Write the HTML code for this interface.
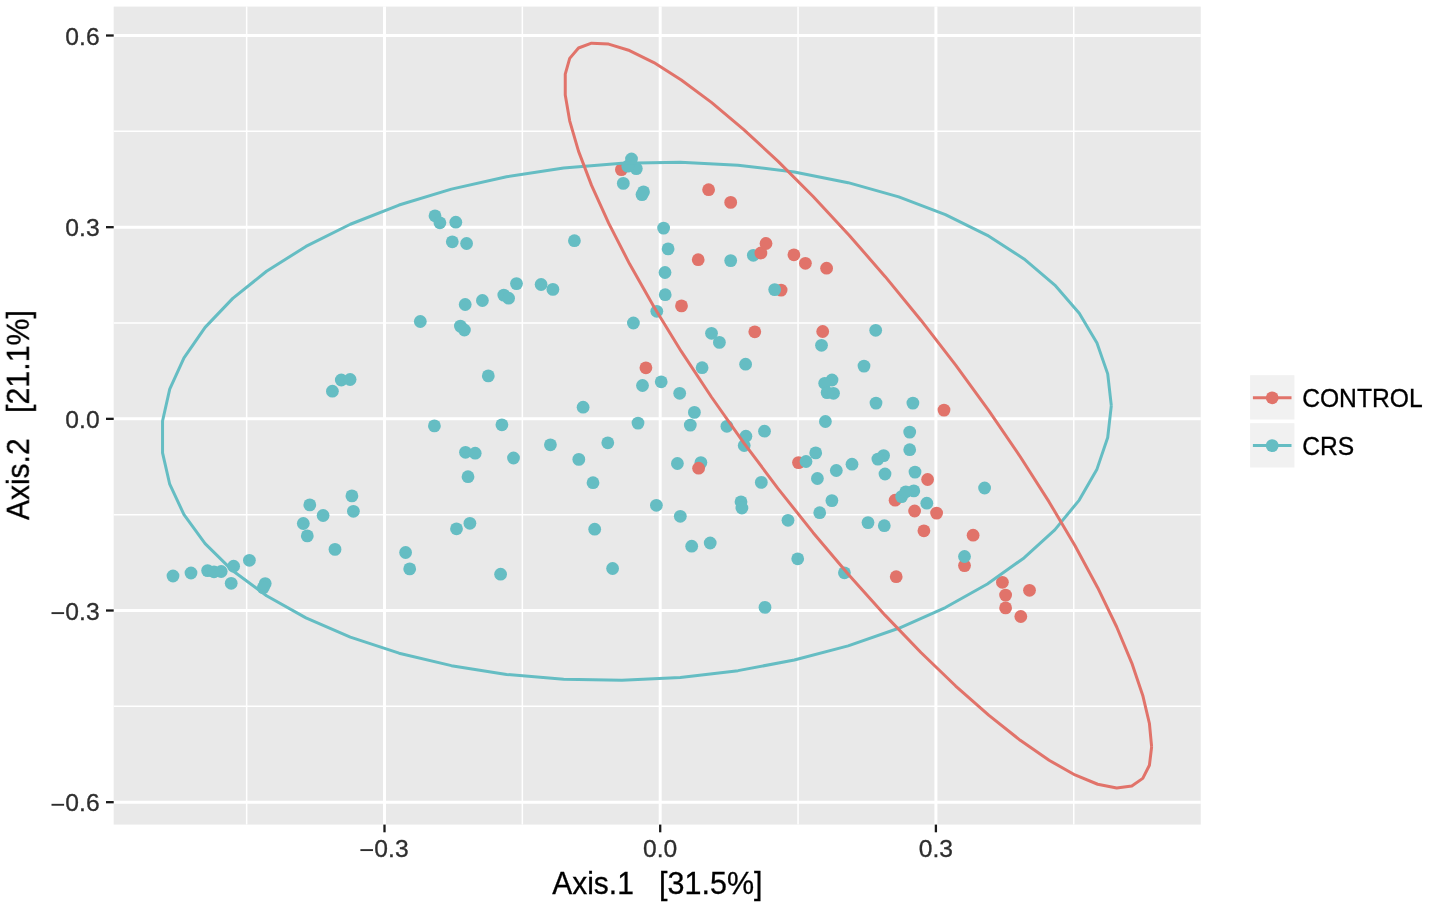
<!DOCTYPE html>
<html><head><meta charset="utf-8"><style>
html,body{margin:0;padding:0;background:#fff;width:1429px;height:906px;overflow:hidden}
svg{display:block}
text{font-family:"Liberation Sans",sans-serif;font-kerning:none;will-change:transform}
</style></head><body>
<svg width="1429" height="906" viewBox="0 0 1429 906">
<rect x="0" y="0" width="1429" height="906" fill="#fff"/>
<rect x="113.7" y="6.6" width="1087.05" height="818.00" fill="#E9E9E9"/>
<g stroke="#fff" stroke-width="1.5"><line x1="246.65" y1="6.6" x2="246.65" y2="824.6"/><line x1="522.35" y1="6.6" x2="522.35" y2="824.6"/><line x1="798.05" y1="6.6" x2="798.05" y2="824.6"/><line x1="1073.75" y1="6.6" x2="1073.75" y2="824.6"/><line x1="113.7" y1="706.36" x2="1200.75" y2="706.36"/><line x1="113.7" y1="514.69" x2="1200.75" y2="514.69"/><line x1="113.7" y1="323.02" x2="1200.75" y2="323.02"/><line x1="113.7" y1="131.35" x2="1200.75" y2="131.35"/></g>
<g stroke="#fff" stroke-width="3.0"><line x1="384.50" y1="6.6" x2="384.50" y2="824.6"/><line x1="660.20" y1="6.6" x2="660.20" y2="824.6"/><line x1="935.90" y1="6.6" x2="935.90" y2="824.6"/><line x1="113.7" y1="802.19" x2="1200.75" y2="802.19"/><line x1="113.7" y1="610.52" x2="1200.75" y2="610.52"/><line x1="113.7" y1="418.85" x2="1200.75" y2="418.85"/><line x1="113.7" y1="227.18" x2="1200.75" y2="227.18"/><line x1="113.7" y1="35.51" x2="1200.75" y2="35.51"/></g>
<g fill="#65BDC3"><circle cx="173" cy="576" r="6.4"/><circle cx="191" cy="573" r="6.4"/><circle cx="207.6" cy="570.6" r="6.4"/><circle cx="214" cy="571.8" r="6.4"/><circle cx="221.2" cy="571.5" r="6.4"/><circle cx="233.6" cy="566.2" r="6.4"/><circle cx="249.4" cy="560.3" r="6.4"/><circle cx="231.2" cy="583.3" r="6.4"/><circle cx="265.2" cy="583.6" r="6.4"/><circle cx="263.2" cy="587.7" r="6.4"/><circle cx="309.8" cy="504.9" r="6.4"/><circle cx="323.1" cy="515.5" r="6.4"/><circle cx="303.3" cy="523.5" r="6.4"/><circle cx="307.3" cy="535.9" r="6.4"/><circle cx="335" cy="549.4" r="6.4"/><circle cx="351.9" cy="495.9" r="6.4"/><circle cx="353.4" cy="511.3" r="6.4"/><circle cx="332.4" cy="391.2" r="6.4"/><circle cx="341.3" cy="380" r="6.4"/><circle cx="350.1" cy="379.5" r="6.4"/><circle cx="435" cy="215.8" r="6.4"/><circle cx="439.9" cy="222.8" r="6.4"/><circle cx="455.8" cy="222.2" r="6.4"/><circle cx="452.3" cy="241.8" r="6.4"/><circle cx="466.6" cy="243.5" r="6.4"/><circle cx="574.4" cy="240.7" r="6.4"/><circle cx="516.5" cy="283.6" r="6.4"/><circle cx="541.1" cy="284.5" r="6.4"/><circle cx="552.9" cy="289.4" r="6.4"/><circle cx="503.8" cy="295.1" r="6.4"/><circle cx="508.6" cy="298.2" r="6.4"/><circle cx="482.4" cy="300.5" r="6.4"/><circle cx="465.2" cy="304.5" r="6.4"/><circle cx="420.3" cy="321.5" r="6.4"/><circle cx="460.4" cy="326.1" r="6.4"/><circle cx="464.4" cy="330" r="6.4"/><circle cx="488.3" cy="375.9" r="6.4"/><circle cx="583.1" cy="407.2" r="6.4"/><circle cx="434.4" cy="425.9" r="6.4"/><circle cx="501.9" cy="424.8" r="6.4"/><circle cx="550.4" cy="444.8" r="6.4"/><circle cx="607.8" cy="442.8" r="6.4"/><circle cx="465.5" cy="452.3" r="6.4"/><circle cx="475.2" cy="453.2" r="6.4"/><circle cx="513.5" cy="458" r="6.4"/><circle cx="578.8" cy="459.4" r="6.4"/><circle cx="468" cy="476.7" r="6.4"/><circle cx="593" cy="482.7" r="6.4"/><circle cx="456.5" cy="528.8" r="6.4"/><circle cx="469.9" cy="523.3" r="6.4"/><circle cx="405.6" cy="552.5" r="6.4"/><circle cx="409.7" cy="568.9" r="6.4"/><circle cx="500.6" cy="574.2" r="6.4"/><circle cx="594.7" cy="529.2" r="6.4"/><circle cx="612.6" cy="568.5" r="6.4"/><circle cx="631.5" cy="159" r="6.4"/><circle cx="636.3" cy="168.6" r="6.4"/><circle cx="623.3" cy="183.4" r="6.4"/><circle cx="643.5" cy="191.9" r="6.4"/><circle cx="642.0" cy="194.6" r="6.4"/><circle cx="663.6" cy="228.1" r="6.4"/><circle cx="668.1" cy="248.9" r="6.4"/><circle cx="665" cy="272.5" r="6.4"/><circle cx="665.2" cy="294.7" r="6.4"/><circle cx="656.8" cy="311.3" r="6.4"/><circle cx="633.4" cy="323" r="6.4"/><circle cx="642.5" cy="385.5" r="6.4"/><circle cx="638" cy="423.1" r="6.4"/><circle cx="753.3" cy="255.3" r="6.4"/><circle cx="730.7" cy="260.6" r="6.4"/><circle cx="711.5" cy="333.3" r="6.4"/><circle cx="719.4" cy="342.4" r="6.4"/><circle cx="702.1" cy="367.7" r="6.4"/><circle cx="745.6" cy="364.2" r="6.4"/><circle cx="661.2" cy="381.8" r="6.4"/><circle cx="679.7" cy="393.3" r="6.4"/><circle cx="694.4" cy="412.4" r="6.4"/><circle cx="690.3" cy="425.1" r="6.4"/><circle cx="726.9" cy="426.3" r="6.4"/><circle cx="764.5" cy="431.2" r="6.4"/><circle cx="745.9" cy="436.2" r="6.4"/><circle cx="744.2" cy="445.5" r="6.4"/><circle cx="677.4" cy="463.5" r="6.4"/><circle cx="700.9" cy="462.6" r="6.4"/><circle cx="761.3" cy="482.4" r="6.4"/><circle cx="656.4" cy="505.3" r="6.4"/><circle cx="741" cy="501.8" r="6.4"/><circle cx="741.9" cy="508" r="6.4"/><circle cx="680.3" cy="516.3" r="6.4"/><circle cx="788" cy="520.3" r="6.4"/><circle cx="691.7" cy="546.2" r="6.4"/><circle cx="710.2" cy="543" r="6.4"/><circle cx="797.7" cy="558.8" r="6.4"/><circle cx="844.4" cy="572.8" r="6.4"/><circle cx="765" cy="607.4" r="6.4"/><circle cx="875.7" cy="330.3" r="6.4"/><circle cx="864" cy="366.1" r="6.4"/><circle cx="821.5" cy="345.3" r="6.4"/><circle cx="832" cy="380" r="6.4"/><circle cx="824.7" cy="383.3" r="6.4"/><circle cx="827.1" cy="392.6" r="6.4"/><circle cx="833.5" cy="393.3" r="6.4"/><circle cx="876" cy="403.1" r="6.4"/><circle cx="912.9" cy="403.1" r="6.4"/><circle cx="825.4" cy="421.5" r="6.4"/><circle cx="909.7" cy="432.1" r="6.4"/><circle cx="909.7" cy="449.7" r="6.4"/><circle cx="883.6" cy="455.6" r="6.4"/><circle cx="877.9" cy="459.1" r="6.4"/><circle cx="852" cy="464.2" r="6.4"/><circle cx="885" cy="474" r="6.4"/><circle cx="915" cy="472.1" r="6.4"/><circle cx="913.8" cy="490.9" r="6.4"/><circle cx="926.8" cy="503.2" r="6.4"/><circle cx="868" cy="522.6" r="6.4"/><circle cx="884.3" cy="525.7" r="6.4"/><circle cx="984.6" cy="488" r="6.4"/><circle cx="815.7" cy="452.9" r="6.4"/><circle cx="817.4" cy="478.5" r="6.4"/><circle cx="836.3" cy="470.5" r="6.4"/><circle cx="831.9" cy="500.6" r="6.4"/><circle cx="819.7" cy="512.7" r="6.4"/></g>
<g fill="#E1736A"><circle cx="621.4" cy="169.6" r="6.4"/><circle cx="708.6" cy="189.7" r="6.4"/><circle cx="730.7" cy="202.4" r="6.4"/><circle cx="698.2" cy="259.7" r="6.4"/><circle cx="760.9" cy="253" r="6.4"/><circle cx="766" cy="243.5" r="6.4"/><circle cx="793.9" cy="254.8" r="6.4"/><circle cx="805.4" cy="263.3" r="6.4"/><circle cx="826.6" cy="268.2" r="6.4"/><circle cx="781.1" cy="290.1" r="6.4"/><circle cx="681.5" cy="305.9" r="6.4"/><circle cx="754.8" cy="331.8" r="6.4"/><circle cx="822.7" cy="331.5" r="6.4"/><circle cx="645.9" cy="367.8" r="6.4"/><circle cx="944" cy="410.1" r="6.4"/><circle cx="698.6" cy="468.2" r="6.4"/><circle cx="798.5" cy="462.6" r="6.4"/><circle cx="927.6" cy="479.5" r="6.4"/><circle cx="895.1" cy="500.2" r="6.4"/><circle cx="914.6" cy="511" r="6.4"/><circle cx="936.6" cy="513.1" r="6.4"/><circle cx="923.9" cy="530.8" r="6.4"/><circle cx="973.1" cy="535.2" r="6.4"/><circle cx="964.5" cy="565.6" r="6.4"/><circle cx="896.2" cy="576.7" r="6.4"/><circle cx="1002.4" cy="582.3" r="6.4"/><circle cx="1005.6" cy="595.1" r="6.4"/><circle cx="1005.6" cy="607.9" r="6.4"/><circle cx="1029.5" cy="590.3" r="6.4"/><circle cx="1020.8" cy="616.5" r="6.4"/></g>
<g fill="#65BDC3"><circle cx="627.8" cy="166.2" r="6.4"/><circle cx="774.7" cy="289.6" r="6.4"/><circle cx="901.6" cy="496.6" r="6.4"/><circle cx="905.8" cy="491.8" r="6.4"/><circle cx="964.5" cy="556.5" r="6.4"/><circle cx="806" cy="461.5" r="6.4"/></g>
<polyline fill="none" stroke="#65BDC3" stroke-width="3.0" stroke-linejoin="round" points="1111.31,405.56 1107.71,373.88 1096.97,342.93 1079.25,313.16 1054.81,285.02 1024.03,258.96 987.38,235.35 945.41,214.56 898.76,196.91 848.13,182.66 794.29,172.02 738.06,165.16 680.29,162.19 621.86,163.14 563.65,168.00 506.54,176.70 451.40,189.11 399.06,205.04 350.33,224.25 305.93,246.44 266.55,271.29 232.77,298.40 205.11,327.38 183.99,357.79 169.73,389.15 162.55,421.00 162.55,452.86 169.73,484.23 183.99,514.66 205.11,543.66 232.77,570.81 266.55,595.70 305.93,617.93 350.33,637.19 399.07,653.18 451.40,665.65 506.54,674.41 563.65,679.34 621.86,680.35 680.29,677.44 738.06,670.64 794.29,660.06 848.13,645.87 898.76,628.27 945.41,607.53 987.38,583.96 1024.03,557.93 1054.81,529.83 1079.25,500.08 1096.97,469.14 1107.71,437.47 1111.31,405.56"/>
<polyline fill="none" stroke="#E1736A" stroke-width="3.0" stroke-linejoin="round" points="1151.63,746.90 1149.41,723.48 1142.77,695.40 1131.81,663.07 1116.71,626.99 1097.69,587.70 1075.04,545.79 1049.10,501.92 1020.26,456.73 988.97,410.91 955.70,365.17 920.94,320.18 885.24,276.64 849.12,235.20 813.14,196.50 777.85,161.11 743.77,129.58 711.42,102.38 681.30,79.93 653.87,62.57 629.52,50.55 608.65,44.06 591.55,43.21 578.50,47.99 569.69,58.35 565.25,74.12 565.25,95.06 569.69,120.86 578.50,151.12 591.55,185.40 608.65,223.15 629.52,263.83 653.87,306.80 681.30,351.42 711.43,397.01 743.77,442.87 777.85,488.33 813.14,532.67 849.12,575.24 885.24,615.39 920.94,652.50 955.70,686.03 988.97,715.45 1020.26,740.32 1049.10,760.27 1075.04,774.98 1097.69,784.25 1116.71,787.93 1131.81,785.96 1142.77,778.38 1149.41,765.29 1151.63,746.90"/>
<g stroke="#1A1A1A" stroke-width="2.3"><line x1="106" y1="802.19" x2="113.7" y2="802.19"/><line x1="106" y1="610.52" x2="113.7" y2="610.52"/><line x1="106" y1="418.85" x2="113.7" y2="418.85"/><line x1="106" y1="227.18" x2="113.7" y2="227.18"/><line x1="106" y1="35.51" x2="113.7" y2="35.51"/><line x1="384.50" y1="824.6" x2="384.50" y2="832.3"/><line x1="660.20" y1="824.6" x2="660.20" y2="832.3"/><line x1="935.90" y1="824.6" x2="935.90" y2="832.3"/></g>
<g fill="#2E2E2E" font-size="24.65" stroke="#2E2E2E" stroke-width="0.3"><text x="99.6" y="811.19" text-anchor="end">0.6</text><rect x="51.5" y="803.84" width="12.6" height="1.9" stroke="none"/><text x="99.6" y="619.52" text-anchor="end">0.3</text><rect x="51.5" y="612.17" width="12.6" height="1.9" stroke="none"/><text x="99.6" y="427.85" text-anchor="end">0.0</text><text x="99.6" y="236.18" text-anchor="end">0.3</text><text x="99.6" y="44.51" text-anchor="end">0.6</text><text x="408.6" y="856.5" text-anchor="end">0.3</text><rect x="360.4" y="849.15" width="12.6" height="1.9" stroke="none"/><text x="660.20" y="856.5" text-anchor="middle">0.0</text><text x="935.90" y="856.5" text-anchor="middle">0.3</text></g>
<text transform="translate(0,893.80) scale(1,1.03)" x="552.24" y="0" font-size="30.0" textLength="81.62" lengthAdjust="spacingAndGlyphs" fill="#000" stroke="#000" stroke-width="0.3">Axis.1</text>
<text transform="translate(0,893.80) scale(1,1.03)" x="659.13" y="0" font-size="30.0" textLength="103.45" lengthAdjust="spacingAndGlyphs" fill="#000" stroke="#000" stroke-width="0.3">[31.5%]</text>
<text transform="translate(28.70,0) rotate(-90) scale(1,1.03)" x="-520.06" y="0" font-size="30.0" textLength="81.67" lengthAdjust="spacingAndGlyphs" fill="#000" stroke="#000" stroke-width="0.3">Axis.2</text>
<text transform="translate(28.70,0) rotate(-90) scale(1,1.03)" x="-412.96" y="0" font-size="30.0" textLength="102.82" lengthAdjust="spacingAndGlyphs" fill="#000" stroke="#000" stroke-width="0.3">[21.1%]</text>
<rect x="1250.1" y="375.2" width="44.3" height="44.3" fill="#F1F1F1"/>
<rect x="1250.1" y="423.2" width="44.3" height="44.3" fill="#F1F1F1"/>
<line x1="1252.9" y1="397.8" x2="1291.5" y2="397.8" stroke="#E1736A" stroke-width="3.0"/>
<circle cx="1272.2" cy="397.8" r="6.4" fill="#E1736A"/>
<line x1="1252.9" y1="445.6" x2="1291.5" y2="445.6" stroke="#65BDC3" stroke-width="3.0"/>
<circle cx="1272.2" cy="445.6" r="6.4" fill="#65BDC3"/>
<text transform="translate(0,406.90) scale(1,1.03)" x="1302.15" y="0" font-size="24.65" textLength="120.47" lengthAdjust="spacingAndGlyphs" fill="#000" stroke="#000" stroke-width="0.3">CONTROL</text>
<text transform="translate(0,454.80) scale(1,1.03)" x="1302.15" y="0" font-size="24.65" textLength="51.98" lengthAdjust="spacingAndGlyphs" fill="#000" stroke="#000" stroke-width="0.3">CRS</text>
</svg></body></html>
